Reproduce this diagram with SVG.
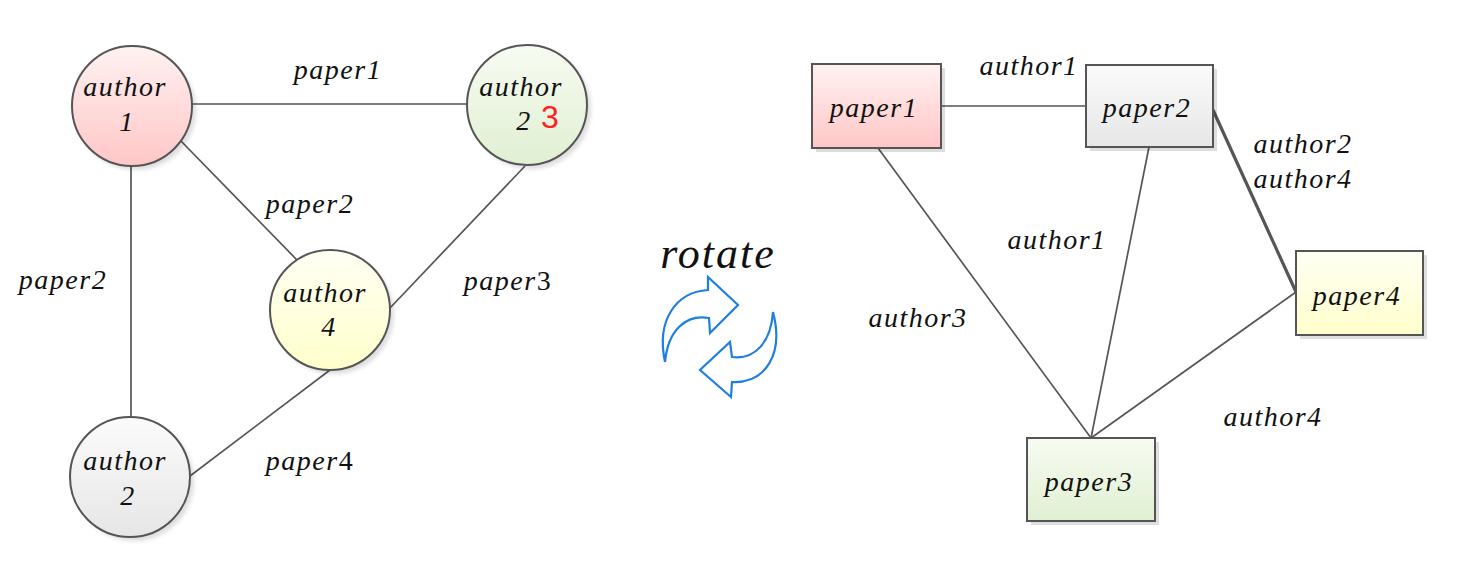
<svg xmlns="http://www.w3.org/2000/svg" width="1460" height="570" viewBox="0 0 1460 570">
<style>
.t{font-family:"Liberation Serif","Times New Roman",serif;font-style:italic;font-size:28px;letter-spacing:1.5px;fill:#111;text-anchor:middle}
.node{stroke:#555;stroke-width:2}
.sh{fill:#000;opacity:0.13}
.edge{stroke:#555;stroke-width:1.7;fill:none}
.up{font-style:normal}
</style>
<defs>
<linearGradient id="gPink" x1="0" y1="0" x2="0" y2="1"><stop offset="0" stop-color="#fff2f2"/><stop offset="1" stop-color="#ffc6c6"/></linearGradient>
<linearGradient id="gGreen" x1="0" y1="0" x2="0" y2="1"><stop offset="0" stop-color="#f7fbf2"/><stop offset="1" stop-color="#e0f0d2"/></linearGradient>
<linearGradient id="gYellow" x1="0" y1="0" x2="0" y2="1"><stop offset="0" stop-color="#fffff4"/><stop offset="1" stop-color="#ffffcc"/></linearGradient>
<linearGradient id="gGray" x1="0" y1="0" x2="0" y2="1"><stop offset="0" stop-color="#fbfbfb"/><stop offset="1" stop-color="#e6e6e6"/></linearGradient>
<filter id="blur" x="-20%" y="-20%" width="140%" height="140%"><feGaussianBlur stdDeviation="2"/></filter>
</defs>

<g id="connectors">
<line class="edge" x1="192" y1="104" x2="467" y2="104"/>
<line class="edge" x1="180" y1="140" x2="297" y2="260"/>
<line class="edge" x1="131" y1="166" x2="131" y2="417"/>
<line class="edge" x1="525" y1="166" x2="390" y2="308"/>
<line class="edge" x1="330" y1="370" x2="190" y2="476"/>
<line class="edge" x1="942" y1="106" x2="1086" y2="106"/>
<line class="edge" x1="878" y1="148" x2="1091" y2="438"/>
<line class="edge" x1="1149" y1="147" x2="1091" y2="438"/>
<line class="edge" x1="1213" y1="110" x2="1296" y2="292" style="stroke-width:3.2"/>
<line class="edge" x1="1296" y1="292" x2="1091" y2="438"/>
</g>

<g id="edge-labels">
<text class="t" x="338" y="79">paper1</text>
<text class="t" x="310" y="213">paper2</text>
<text class="t" x="63" y="289">paper2</text>
<text class="t" x="508" y="290">paper<tspan class="up">3</tspan></text>
<text class="t" x="310" y="470">paper<tspan class="up">4</tspan></text>
<text class="t" x="1029" y="75">author1</text>
<text class="t" x="1303" y="153">author2</text>
<text class="t" x="1303" y="188">author4</text>
<text class="t" x="1057" y="249">author1</text>
<text class="t" x="918" y="327">author3</text>
<text class="t" x="1273" y="426">author4</text>
</g>

<g id="author1">
<circle class="sh" cx="136" cy="110" r="60" filter="url(#blur)"/>
<circle class="node" cx="132" cy="106" r="60" fill="url(#gPink)"/>
<text class="t" x="125" y="96">author</text>
<text class="t" x="127" y="131">1</text>
</g>
<g id="author2-top">
<circle class="sh" cx="531" cy="109" r="60" filter="url(#blur)"/>
<circle class="node" cx="527" cy="105" r="60" fill="url(#gGreen)"/>
<text class="t" x="521" y="96">author</text>
<text class="t" x="524" y="130">2</text>
<text x="550" y="128" style="font-family:'Liberation Sans',Arial,sans-serif;font-size:32px;fill:#ff2020;text-anchor:middle">3</text>
</g>
<g id="author4">
<circle class="sh" cx="334" cy="314" r="60" filter="url(#blur)"/>
<circle class="node" cx="330" cy="310" r="60" fill="url(#gYellow)"/>
<text class="t" x="325" y="302">author</text>
<text class="t" x="329" y="336">4</text>
</g>
<g id="author2-bottom">
<circle class="sh" cx="134" cy="481" r="60" filter="url(#blur)"/>
<circle class="node" cx="130" cy="477" r="60" fill="url(#gGray)"/>
<text class="t" x="125" y="470">author</text>
<text class="t" x="128" y="505">2</text>
</g>

<g id="rotate">
<text class="t" x="718" y="268" style="font-size:44px;letter-spacing:2px">rotate</text>
<path d="M665,362 C656,320 676,292 708,290 L708,277 L738,305 L710,333 L709,318 C686,314 668,330 665,362 Z" fill="#fff" stroke="#1e7fe0" stroke-width="2.2"/>
<path d="M773,312 C784,354 766,383 732,382 L731,397 L700,370 L730,342 L732,357 C755,360 771,342 773,312 Z" fill="#fff" stroke="#1e7fe0" stroke-width="2.2"/>
</g>

<g id="paper1">
<rect class="sh" x="816" y="68" width="129" height="84"/>
<rect class="node" x="812" y="64" width="129" height="84" fill="url(#gPink)"/>
<text class="t" x="874" y="117">paper1</text>
</g>
<g id="paper2">
<rect class="sh" x="1090" y="69" width="127" height="82"/>
<rect class="node" x="1086" y="65" width="127" height="82" fill="url(#gGray)"/>
<text class="t" x="1147" y="117">paper2</text>
</g>
<g id="paper4">
<rect class="sh" x="1300" y="255" width="127" height="84"/>
<rect class="node" x="1296" y="251" width="127" height="84" fill="url(#gYellow)"/>
<text class="t" x="1357" y="305">paper4</text>
</g>
<g id="paper3">
<rect class="sh" x="1031" y="442" width="128" height="83"/>
<rect class="node" x="1027" y="438" width="128" height="83" fill="url(#gGreen)"/>
<text class="t" x="1089" y="491">paper3</text>
</g>
</svg>
